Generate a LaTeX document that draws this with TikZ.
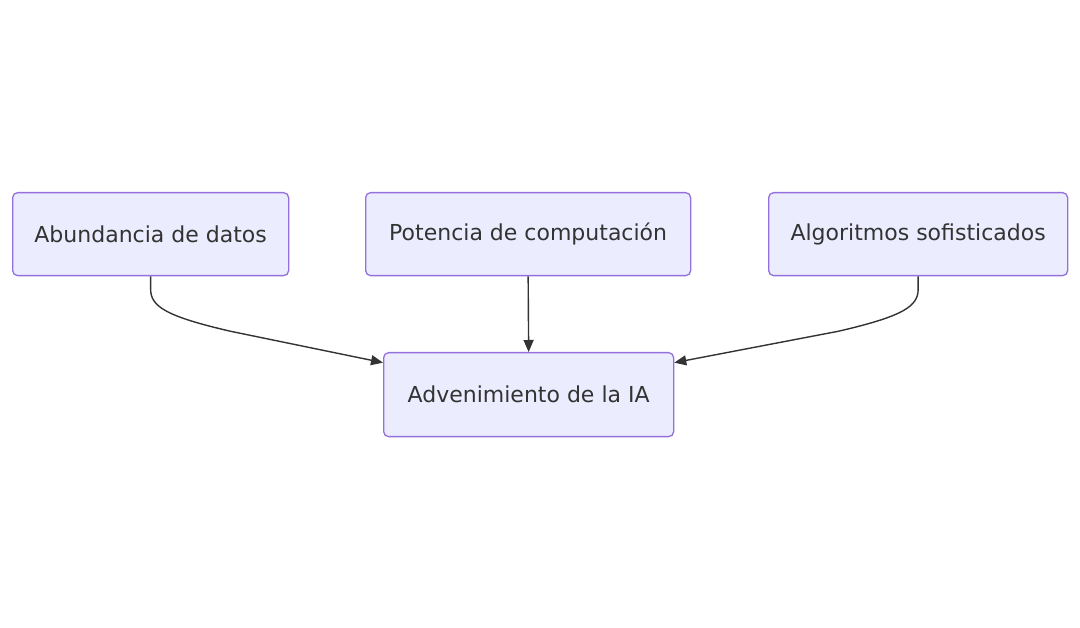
\documentclass[tikz,border=0pt]{standalone}
\usepackage{fontspec}
\setmainfont{DejaVu Sans}
\usetikzlibrary{arrows.meta}
\definecolor{nodefill}{HTML}{ECECFF}
\definecolor{nodeborder}{HTML}{9370DB}
\definecolor{ink}{HTML}{333333}
\tikzset{
  box/.style={draw=nodeborder, fill=nodefill, line width=1.3pt, rounded corners=5pt,
    text=ink, font=\fontsize{22}{26}\selectfont, inner sep=0pt, anchor=north west},
  link/.style={draw=ink, line width=1.4pt, -{Triangle[length=12pt,width=10pt]}}
}
\begin{document}
\begin{tikzpicture}[x=1pt,y=-1pt]
\useasboundingbox (0,0) rectangle (1080,628);
\node[box, minimum width=276pt, minimum height=83pt] (a) at (12,192) {Abundancia de datos};
\node[box, minimum width=325pt, minimum height=83pt] (p) at (365,192) {Potencia de computación};
\node[box, minimum width=299pt, minimum height=83pt] (g) at (768,192) {Algoritmos sofisticados};
\node[box, minimum width=290pt, minimum height=84pt] (r) at (383,352) {Advenimiento de la IA};
\coordinate (rl) at ([yshift=32pt]r.west);
\coordinate (rr) at ([yshift=32pt]r.east);
\draw[link] (a.south) -- ++(0,13) .. controls +(0,17) and +(-65,-15) .. ++(80,42) -- (rl);
\draw[link] (p.south) -- (r.north);
\draw[link] (g.south) -- ++(0,13) .. controls +(0,17) and +(65,-15) .. ++(-80,42) -- (rr);
\end{tikzpicture}
\end{document}
